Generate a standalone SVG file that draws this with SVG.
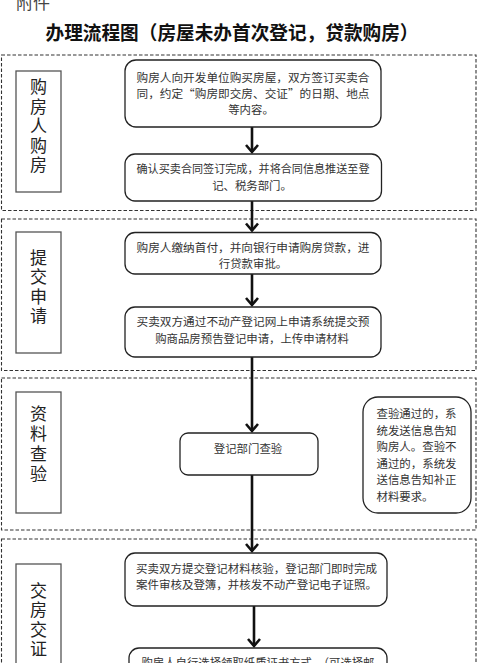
<svg xmlns="http://www.w3.org/2000/svg" width="480" height="663" viewBox="0 0 480 663">
<defs>
<style>
.band{fill:none;stroke:#333;stroke-width:1.1;stroke-dasharray:3.5 2}
.lbl{fill:#fff;stroke:#555;stroke-width:1.3}
.lt{font-family:"Noto Sans CJK SC",sans-serif;font-size:17px;fill:#222;text-anchor:middle;writing-mode:vertical-rl;letter-spacing:2.5px}
.box{fill:#fff;stroke:#222;stroke-width:1.3}
.t{font-family:"Noto Sans CJK SC",sans-serif;font-size:11.4px;fill:#333;text-anchor:middle}
.tl{font-family:"Noto Sans CJK SC",sans-serif;font-size:11.4px;fill:#333}
.arr{fill:none;stroke:#111;stroke-width:2.6}
.head{fill:none;stroke:#111;stroke-width:2.6;stroke-linejoin:miter}
</style>
</defs>
<rect width="480" height="663" fill="#fff"/>
<text x="16" y="9" font-family="'Noto Sans CJK SC',sans-serif" font-size="17" fill="#444">附件</text>
<text x="232" y="40" font-family="'Noto Sans CJK SC',sans-serif" font-size="19" font-weight="bold" fill="#111" text-anchor="middle" textLength="373" lengthAdjust="spacingAndGlyphs">办理流程图（房屋未办首次登记，贷款购房）</text>

<g id="bands">
<rect class="band" x="1.5" y="55" width="474.5" height="155.5"/>
<rect class="band" x="1.5" y="219" width="474.5" height="151.5"/>
<rect class="band" x="1.5" y="378" width="474.5" height="152"/>
<rect class="band" x="1.5" y="539" width="474.5" height="140"/>
</g>

<g id="lane1">
<rect class="lbl" x="16" y="71" width="45" height="121"/>
<text class="lt" x="38.5" y="127">购房人购房</text>
</g>
<g id="lane2">
<rect class="lbl" x="16" y="232" width="45" height="121"/>
<text class="lt" x="38.5" y="288">提交申请</text>
</g>
<g id="lane3">
<rect class="lbl" x="16" y="392" width="45" height="121"/>
<text class="lt" x="38.5" y="445.5" style="letter-spacing:3px">资料查验</text>
</g>
<g id="lane4">
<rect class="lbl" x="16" y="564" width="45" height="121"/>
<text class="lt" x="38.5" y="621">交房交证</text>
</g>

<g id="connectors">
<line class="arr" x1="252" y1="127" x2="252" y2="152"/>
<path class="head" d="M246,145 L252,152 L258,145"/>
<line class="arr" x1="252" y1="201" x2="252" y2="230.5"/>
<path class="head" d="M246,223.5 L252,230.5 L258,223.5"/>
<line class="arr" x1="252" y1="274" x2="252" y2="305"/>
<path class="head" d="M246,298 L252,305 L258,298"/>
<line class="arr" x1="252" y1="357" x2="252" y2="431"/>
<path class="head" d="M246,424 L252,431 L258,424"/>
<line class="arr" x1="252" y1="475" x2="252" y2="551"/>
<path class="head" d="M246,544 L252,551 L258,544"/>
<line class="arr" x1="254" y1="606" x2="254" y2="646"/>
<path class="head" d="M248,639 L254,646 L260,639"/>
</g>

<g id="n1">
<rect class="box" x="125" y="60" width="256" height="67" rx="11"/>
<text class="t" x="253" y="82" textLength="233" lengthAdjust="spacingAndGlyphs">购房人向开发单位购买房屋，双方签订买卖合</text>
<text class="t" x="253" y="98" textLength="233" lengthAdjust="spacingAndGlyphs">同，约定“购房即交房、交证”的日期、地点</text>
<text class="t" x="251" y="114">等内容。</text>
</g>
<g id="n2">
<rect class="box" x="125" y="154" width="256.5" height="47" rx="10"/>
<text class="t" x="253" y="173" textLength="233" lengthAdjust="spacingAndGlyphs">确认买卖合同签订完成，并将合同信息推送至登</text>
<text class="t" x="252" y="190">记、税务部门。</text>
</g>
<g id="n3">
<rect class="box" x="125" y="232.5" width="256" height="41.5" rx="10"/>
<text class="t" x="253" y="252" textLength="233" lengthAdjust="spacingAndGlyphs">购房人缴纳首付，并向银行申请购房贷款，进</text>
<text class="t" x="253" y="268">行贷款审批。</text>
</g>
<g id="n4">
<rect class="box" x="125" y="307" width="256" height="50" rx="10"/>
<text class="t" x="253" y="326" textLength="233" lengthAdjust="spacingAndGlyphs">买卖双方通过不动产登记网上申请系统提交预</text>
<text class="t" x="252" y="343">购商品房预告登记申请，上传申请材料</text>
</g>
<g id="n5">
<rect class="box" x="180" y="433" width="138" height="42" rx="8"/>
<text class="t" x="248" y="453">登记部门查验</text>
</g>
<g id="n5note">
<rect class="box" x="363" y="397" width="108" height="116" rx="15"/>
<text class="tl" x="376.5" y="417.5" textLength="80" lengthAdjust="spacingAndGlyphs">查验通过的，系</text>
<text class="tl" x="376.5" y="435" textLength="80" lengthAdjust="spacingAndGlyphs">统发送信息告知</text>
<text class="tl" x="376.5" y="451" textLength="80" lengthAdjust="spacingAndGlyphs">购房人。查验不</text>
<text class="tl" x="376.5" y="467.5" textLength="80" lengthAdjust="spacingAndGlyphs">通过的，系统发</text>
<text class="tl" x="376.5" y="484" textLength="80" lengthAdjust="spacingAndGlyphs">送信息告知补正</text>
<text class="tl" x="376.5" y="500.5">材料要求。</text>
</g>
<g id="n6">
<rect class="box" x="125" y="553" width="262" height="53" rx="10"/>
<text class="t" x="256.5" y="573" textLength="241" lengthAdjust="spacingAndGlyphs">买卖双方提交登记材料核验，登记部门即时完成</text>
<text class="t" x="256.5" y="589" textLength="241" lengthAdjust="spacingAndGlyphs">案件审核及登簿，并核发不动产登记电子证照。</text>
</g>
<g id="n7">
<rect class="box" x="129" y="648" width="258" height="40" rx="10"/>
<text class="t" x="258" y="667" textLength="233" lengthAdjust="spacingAndGlyphs">购房人自行选择领取纸质证书方式，（可选择邮</text>
</g>
</svg>
